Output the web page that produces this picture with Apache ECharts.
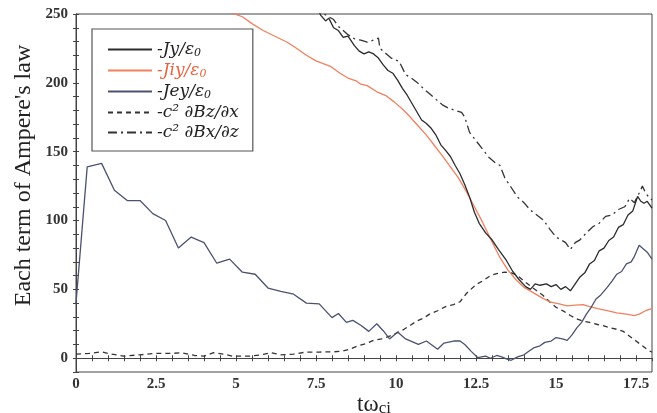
<!DOCTYPE html>
<html>
<head>
<meta charset="utf-8">
<script src="https://cdn.jsdelivr.net/npm/echarts@6/dist/echarts.min.js"></script>
<style>
  body { margin: 0; background: #fff; }
  #chart { width: 657px; height: 413px; }
</style>
</head>
<body>
<div id="chart"></div>
<script>
// [t, value] pairs
const jyData = [
  [7.5, 256], [7.65, 249], [7.8, 245], [7.9, 247], [8.05, 240], [8.2, 238], [8.35, 233], [8.5, 234],
  [8.7, 227], [8.85, 223], [9.0, 221], [9.15, 222.5], [9.3, 221], [9.45, 218], [9.6, 213], [9.75, 209],
  [9.9, 207], [10.05, 202], [10.2, 196], [10.35, 191], [10.5, 185], [10.65, 179], [10.8, 173], [10.95, 170.5],
  [11.1, 167], [11.25, 162], [11.4, 155], [11.55, 151], [11.7, 146.5], [11.85, 140], [12.0, 134], [12.15, 126],
  [12.3, 117], [12.45, 106], [12.6, 98], [12.8, 91], [13.0, 86], [13.2, 79], [13.45, 71], [13.65, 63],
  [13.85, 57], [14.05, 52], [14.2, 50], [14.35, 54], [14.5, 53], [14.7, 54], [14.85, 52], [15.0, 53.5],
  [15.15, 50], [15.3, 52], [15.45, 49], [15.6, 54], [15.75, 59], [15.9, 62], [16.05, 68.5], [16.2, 71],
  [16.35, 78], [16.5, 80], [16.65, 85.5], [16.8, 88], [16.95, 95], [17.1, 97], [17.25, 104], [17.4, 107],
  [17.55, 117.5], [17.65, 114], [17.75, 112.5], [17.85, 114], [18.0, 109]
];
const jiyData = [
  [4.5, 258], [4.9, 250.5], [5.2, 248], [5.5, 243], [5.85, 238], [6.2, 234], [6.6, 229.5], [6.9, 225],
  [7.2, 220], [7.5, 216], [7.95, 212], [8.25, 207], [8.5, 203.5], [8.75, 201.5], [8.9, 199], [9.1, 198],
  [9.4, 193.5], [9.7, 190.5], [9.95, 186], [10.2, 181], [10.45, 175], [10.7, 168.5], [10.95, 162], [11.2, 154.5],
  [11.45, 147], [11.7, 139], [11.95, 131], [12.2, 121], [12.45, 110], [12.7, 99], [12.95, 87], [13.25, 73],
  [13.5, 64], [13.75, 57], [14.0, 51.5], [14.3, 47.5], [14.55, 44], [14.8, 41], [15.1, 39.5], [15.35, 38],
  [15.6, 38.5], [15.85, 39], [16.05, 37.5], [16.3, 36], [16.6, 34.5], [16.9, 33], [17.2, 32], [17.45, 31],
  [17.6, 32], [17.8, 34.5], [18.0, 36]
];
const jeyData = [
  [0, 40], [0.35, 139], [0.8, 141.5], [1.2, 122], [1.6, 114.5], [2.0, 114.5], [2.4, 105], [2.8, 100],
  [3.2, 80], [3.6, 88], [4.0, 84], [4.4, 69], [4.8, 72], [5.2, 62.5], [5.6, 61], [6.0, 51],
  [6.4, 48.5], [6.8, 46.5], [7.2, 40], [7.6, 39.5], [8.0, 29.5], [8.2, 32.5], [8.45, 26], [8.65, 27.5],
  [8.9, 24], [9.15, 19.5], [9.4, 25], [9.6, 20], [9.8, 14], [10.05, 19], [10.3, 14], [10.5, 12],
  [10.7, 10], [10.95, 12.5], [11.1, 10], [11.3, 6.5], [11.5, 11], [11.8, 12.5], [12.0, 12.5], [12.15, 10],
  [12.35, 5], [12.55, 0.5], [12.8, 1.5], [12.95, 0], [13.15, 2], [13.3, 1], [13.45, -0.5], [13.6, -1.5],
  [13.8, 1], [14.0, 2.5], [14.15, 5], [14.3, 7.5], [14.5, 9], [14.65, 11.5], [14.85, 12.5], [15.0, 15],
  [15.2, 14], [15.35, 13], [15.5, 17], [15.65, 22], [15.8, 26], [15.95, 32], [16.1, 37], [16.25, 43],
  [16.4, 46], [16.6, 51.5], [16.75, 56], [16.9, 61], [17.05, 63], [17.2, 68.5], [17.35, 70], [17.45, 74],
  [17.6, 82], [17.75, 79], [17.85, 77], [18.0, 72]
];
const bzxData = [
  [0, 3], [0.4, 3.5], [0.8, 4.6], [1.1, 3], [1.5, 1.5], [2.0, 2.5], [2.5, 3.5], [3.0, 3.5],
  [3.3, 4], [3.7, 2], [4.0, 1.5], [4.3, 4], [4.6, 3], [4.9, 1.5], [5.4, 1.5], [5.8, 2.5],
  [6.1, 4], [6.4, 2.5], [6.8, 3], [7.2, 4.5], [7.6, 4.5], [8.0, 4.6], [8.3, 5], [8.55, 6.5],
  [8.8, 9], [9.05, 10.5], [9.3, 13], [9.55, 14], [9.8, 16], [10.0, 18], [10.25, 21], [10.45, 24],
  [10.65, 27], [10.85, 29], [11.05, 32], [11.3, 34.5], [11.55, 37.5], [11.8, 39], [12.0, 41], [12.2, 47],
  [12.5, 53.5], [12.7, 56], [12.95, 60], [13.15, 61.5], [13.4, 62.5], [13.6, 62], [13.8, 60], [14.0, 56],
  [14.2, 52.5], [14.4, 49], [14.6, 45.5], [14.8, 41], [15.0, 37], [15.25, 34], [15.45, 31], [15.65, 28.5],
  [15.85, 27], [16.05, 26], [16.3, 24.5], [16.5, 23.5], [16.7, 22], [16.9, 21], [17.1, 19.5], [17.3, 16],
  [17.5, 12.5], [17.7, 9], [17.9, 5.5], [18.0, 4.5]
];
const bxzData = [
  [7.5, 257], [7.75, 250], [7.9, 248], [8.05, 246], [8.2, 241], [8.35, 238], [8.5, 235], [8.7, 232],
  [8.9, 231], [9.1, 229.5], [9.3, 231], [9.45, 232.5], [9.5, 225], [9.7, 221], [9.85, 218], [10.1, 215.5],
  [10.3, 206], [10.45, 204], [10.65, 200.5], [10.85, 196], [11.05, 192], [11.25, 188], [11.45, 184], [11.65, 181.5],
  [11.85, 180], [12.05, 178.5], [12.15, 175], [12.3, 164], [12.5, 158], [12.7, 152], [12.9, 146], [13.1, 142],
  [13.25, 140], [13.4, 131], [13.6, 124], [13.8, 117], [14.0, 113], [14.2, 107.5], [14.4, 104], [14.6, 100.5],
  [14.8, 94], [15.0, 88], [15.15, 86], [15.3, 84], [15.45, 79], [15.6, 84], [15.75, 86], [15.95, 91],
  [16.15, 95.5], [16.35, 98], [16.55, 103], [16.75, 104], [16.95, 108], [17.15, 110], [17.3, 116], [17.45, 113],
  [17.6, 120], [17.7, 125], [17.8, 120], [17.9, 117], [18.0, 115]
];

const legendLabels = {
  Jy: '-Jy/ε{s|0}',
  Jiy: '-Jiy/ε{s|0}',
  Jey: '-Jey/ε{s|0}',
  Bzx: '-c² ∂Bz/∂x',
  Bxz: '-c² ∂Bx/∂z'
};

const serif = 'Liberation Serif, Times New Roman, serif';
const wideSerif = 'DejaVu Serif, serif';
const axisColor = '#444';

let myChart = echarts.init(document.getElementById('chart'));

function lineSeries(name, data, color, type, z) {
  return {
    name: name,
    type: 'line',
    data: data,
    symbol: 'none',
    showSymbol: false,
    z: z,
    lineStyle: { color: color, width: 1.3, type: type },
    itemStyle: { color: color }
  };
}

function isStep(v, step) {
  return Math.abs(v / step - Math.round(v / step)) < 1e-6;
}

myChart.setOption({
  animation: false,
  backgroundColor: '#fff',
  grid: {
    left: 76, right: 5, top: 14, bottom: 41,
    containLabel: false,
    outerBoundsMode: 'none',
    show: true, borderColor: axisColor, borderWidth: 1
  },
  legend: {
    orient: 'vertical',
    left: 92,
    top: 29,
    padding: [12, 14, 10, 15],
    itemGap: 3,
    itemWidth: 44,
    itemHeight: 10,
    itemTextGap: 16,
    borderColor: '#555',
    borderWidth: 1.2,
    backgroundColor: '#fff',
    itemStyle: { opacity: 0 },
    data: [
      { name: 'Jy' },
      { name: 'Jiy', textStyle: { color: '#e8643f' } },
      { name: 'Jey' },
      { name: 'Bzx' },
      { name: 'Bxz' }
    ],
    formatter: function (name) { return legendLabels[name]; },
    textStyle: {
      fontFamily: wideSerif,
      fontStyle: 'italic',
      fontSize: 17,
      color: '#222',
      rich: {
        s: { fontFamily: wideSerif, fontStyle: 'italic', fontSize: 11, padding: [8, 0, 0, 0] }
      }
    }
  },
  xAxis: [
    {
      type: 'value',
      position: 'bottom',
      min: 0,
      max: 18,
      interval: 0.5,
      name: '{a|tω}{s|ci}',
      nameLocation: 'middle',
      nameGap: 20,
      nameMoveOverlap: false,
      nameTextStyle: {
        padding: [0, 0, 0, 20],
        rich: {
          a: { fontFamily: serif, fontSize: 23, color: '#222' },
          s: { fontFamily: serif, fontSize: 17, color: '#222', padding: [8, 0, 0, 0] }
        }
      },
      axisLine: { lineStyle: { color: axisColor } },
      axisTick: { inside: true, length: 3, lineStyle: { color: axisColor } },
      axisLabel: {
        margin: 5,
        fontFamily: serif,
        fontSize: 15,
        fontWeight: 'bold',
        color: '#333',
        showMaxLabel: false,
        formatter: function (v) { return isStep(v, 2.5) ? String(v) : ''; }
      },
      splitLine: { show: false }
    },
    {
      type: 'value',
      position: 'top',
      min: 0,
      max: 18,
      interval: 0.5,
      axisLine: { lineStyle: { color: axisColor } },
      axisTick: { inside: true, length: 3, lineStyle: { color: axisColor } },
      axisLabel: { show: false },
      splitLine: { show: false }
    }
  ],
  yAxis: [
    {
      type: 'value',
      position: 'left',
      min: -10,
      max: 250,
      interval: 10,
      name: "Each term of Ampere's law",
      nameLocation: 'middle',
      nameGap: 40,
      nameMoveOverlap: false,
      nameTextStyle: {
        fontFamily: serif,
        fontSize: 24,
        color: '#222',
        padding: [0, 0, 0, 35]
      },
      axisLine: { show: true, lineStyle: { color: axisColor } },
      axisTick: { show: true, inside: true, length: 3, lineStyle: { color: axisColor } },
      axisLabel: {
        margin: 8,
        fontFamily: serif,
        fontSize: 15,
        fontWeight: 'bold',
        color: '#333',
        formatter: function (v) { return isStep(v, 50) ? String(v) : ''; }
      },
      splitLine: { show: false }
    },
    {
      type: 'value',
      position: 'right',
      min: -10,
      max: 250,
      interval: 10,
      axisLine: { show: true, lineStyle: { color: axisColor } },
      axisTick: { show: true, inside: true, length: 3, lineStyle: { color: axisColor } },
      axisLabel: { show: false },
      splitLine: { show: false }
    }
  ],
  series: [
    lineSeries('Jy', jyData, '#2b2b2b', 'solid', 4),
    lineSeries('Jiy', jiyData, '#f0805f', 'solid', 3),
    lineSeries('Jey', jeyData, '#4a5270', 'solid', 4),
    lineSeries('Bzx', bzxData, '#333', [5, 4], 2),
    lineSeries('Bxz', bxzData, '#333', [9, 4, 2, 4], 2)
  ]
});
</script>
</body>
</html>
